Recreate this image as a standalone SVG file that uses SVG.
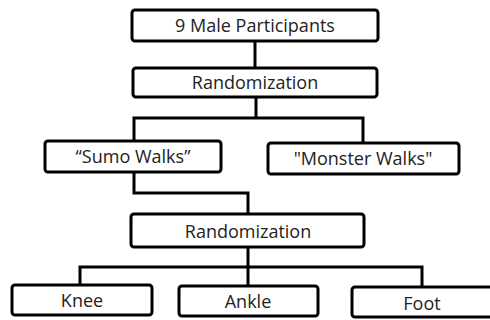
<svg xmlns="http://www.w3.org/2000/svg" width="490" height="320" viewBox="0 0 490 320">
<style>
.box{fill:#fff;stroke:#000;stroke-width:3}
.lbl{font-family:"Open Sans","Liberation Sans",sans-serif;font-size:18px;fill:#222;text-anchor:middle}
.conn{fill:none;stroke:#000;stroke-width:3}
</style>
<rect width="490" height="320" fill="#fff"/>
<g id="connectors">
<path class="conn" d="M255 41V68"/>
<path class="conn" d="M256 97V118M134 142V118H363V144"/>
<path class="conn" d="M134 172V193H248V214"/>
<path class="conn" d="M248 247V267M80 285V267H422V287M248 267V286"/>
</g>
<g id="n1"><rect class="box" x="132" y="10" width="246" height="31" rx="3"/><text class="lbl" x="255" y="32">9 Male Participants</text></g>
<g id="n2"><rect class="box" x="133" y="68" width="244" height="29" rx="3"/><text class="lbl" x="255" y="89">Randomization</text></g>
<g id="n3"><rect class="box" x="45" y="141" width="176" height="31" rx="3"/><text class="lbl" x="133" y="163">“Sumo Walks”</text></g>
<g id="n4"><rect class="box" x="268" y="143" width="191" height="31" rx="3"/><text class="lbl" x="363" y="165">"Monster Walks"</text></g>
<g id="n5"><rect class="box" x="131" y="214" width="233" height="33" rx="3"/><text class="lbl" x="248" y="238">Randomization</text></g>
<g id="n6"><rect class="box" x="12" y="285" width="140" height="30" rx="3"/><text class="lbl" x="82" y="307">Knee</text></g>
<g id="n7"><rect class="box" x="179" y="286" width="139" height="30" rx="3"/><text class="lbl" x="248" y="308">Ankle</text></g>
<g id="n8"><rect class="box" x="352" y="287" width="145" height="30" rx="3"/><text class="lbl" x="422" y="310">Foot</text></g>
</svg>
